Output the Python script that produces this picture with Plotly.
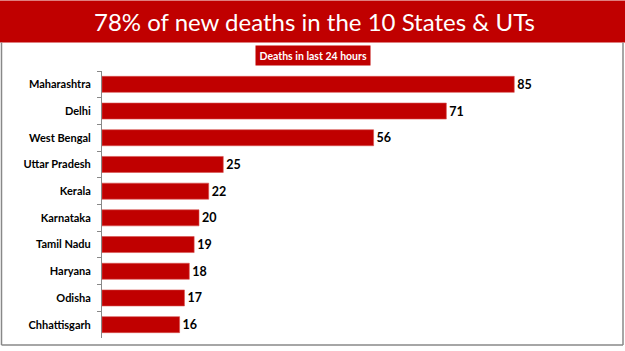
import plotly.graph_objects as go

states = ["Maharashtra", "Delhi", "West Bengal", "Uttar Pradesh", "Kerala",
          "Karnataka", "Tamil Nadu", "Haryana", "Odisha", "Chhattisgarh"]
deaths = [85, 71, 56, 25, 22, 20, 19, 18, 17, 16]
title_text = "78% of new deaths in the 10 States & UTs"
subtitle_text = "Deaths in last 24 hours"

W, H = 625, 351
L, R, T, B = 102, 5, 70.6, 13
pw, ph = W - L - R, H - T - B

def px(x):
    return (x - L) / pw

def py(y):
    return (H - B - y) / ph

RED = "#C00000"

fig = go.Figure(go.Bar(
    x=deaths, y=states, orientation="h",
    marker=dict(color=RED, line=dict(color="#D9534F", width=0.6)),
    width=0.6,
    text=[str(v) for v in deaths], textposition="outside",
    textfont=dict(family="Lato", size=12.5, color="black", weight="bold"),
    cliponaxis=False,
))

fig.update_layout(
    width=W, height=H,
    margin=dict(l=L, r=R, t=T, b=B),
    paper_bgcolor="white", plot_bgcolor="white",
    showlegend=False,
    bargap=0.4,
    xaxis=dict(range=[0, pw / 4.85], visible=False, fixedrange=True),
    yaxis=dict(autorange="reversed", showline=True, linecolor="#888888", linewidth=1,
               ticks="outside", ticklen=4, tickcolor="#888888", tickson="boundaries",
               tickfont=dict(family="Lato", size=11, color="black", weight="bold"),
               showgrid=False, ticklabelstandoff=8),
    shapes=[
        dict(type="rect", xref="paper", yref="paper", x0=px(0), x1=px(W), y0=py(42), y1=py(0),
             fillcolor=RED, line=dict(width=0), layer="below"),
        dict(type="line", xref="paper", yref="paper", x0=px(1.5), x1=px(1.5), y0=py(42), y1=py(345),
             line=dict(color="#888888", width=1.5)),
        dict(type="line", xref="paper", yref="paper", x0=px(623), x1=px(623), y0=py(42), y1=py(345),
             line=dict(color="#888888", width=1.5)),
        dict(type="line", xref="paper", yref="paper", x0=px(1.5), x1=px(623), y0=py(345), y1=py(345),
             line=dict(color="#888888", width=1.5)),
    ],
    annotations=[
        dict(text=title_text, xref="paper", yref="paper", x=px(314), y=py(21),
             xanchor="center", yanchor="middle", showarrow=False,
             font=dict(family="Lato", size=24, color="white")),
        dict(text=subtitle_text, xref="paper", yref="paper", x=px(312.5), y=py(55),
             xanchor="center", yanchor="middle", showarrow=False,
             bgcolor=RED, borderpad=3.5,
             font=dict(family="Lato", size=10.5, color="white", weight="bold")),
    ],
)

fig.write_html("out.html")
